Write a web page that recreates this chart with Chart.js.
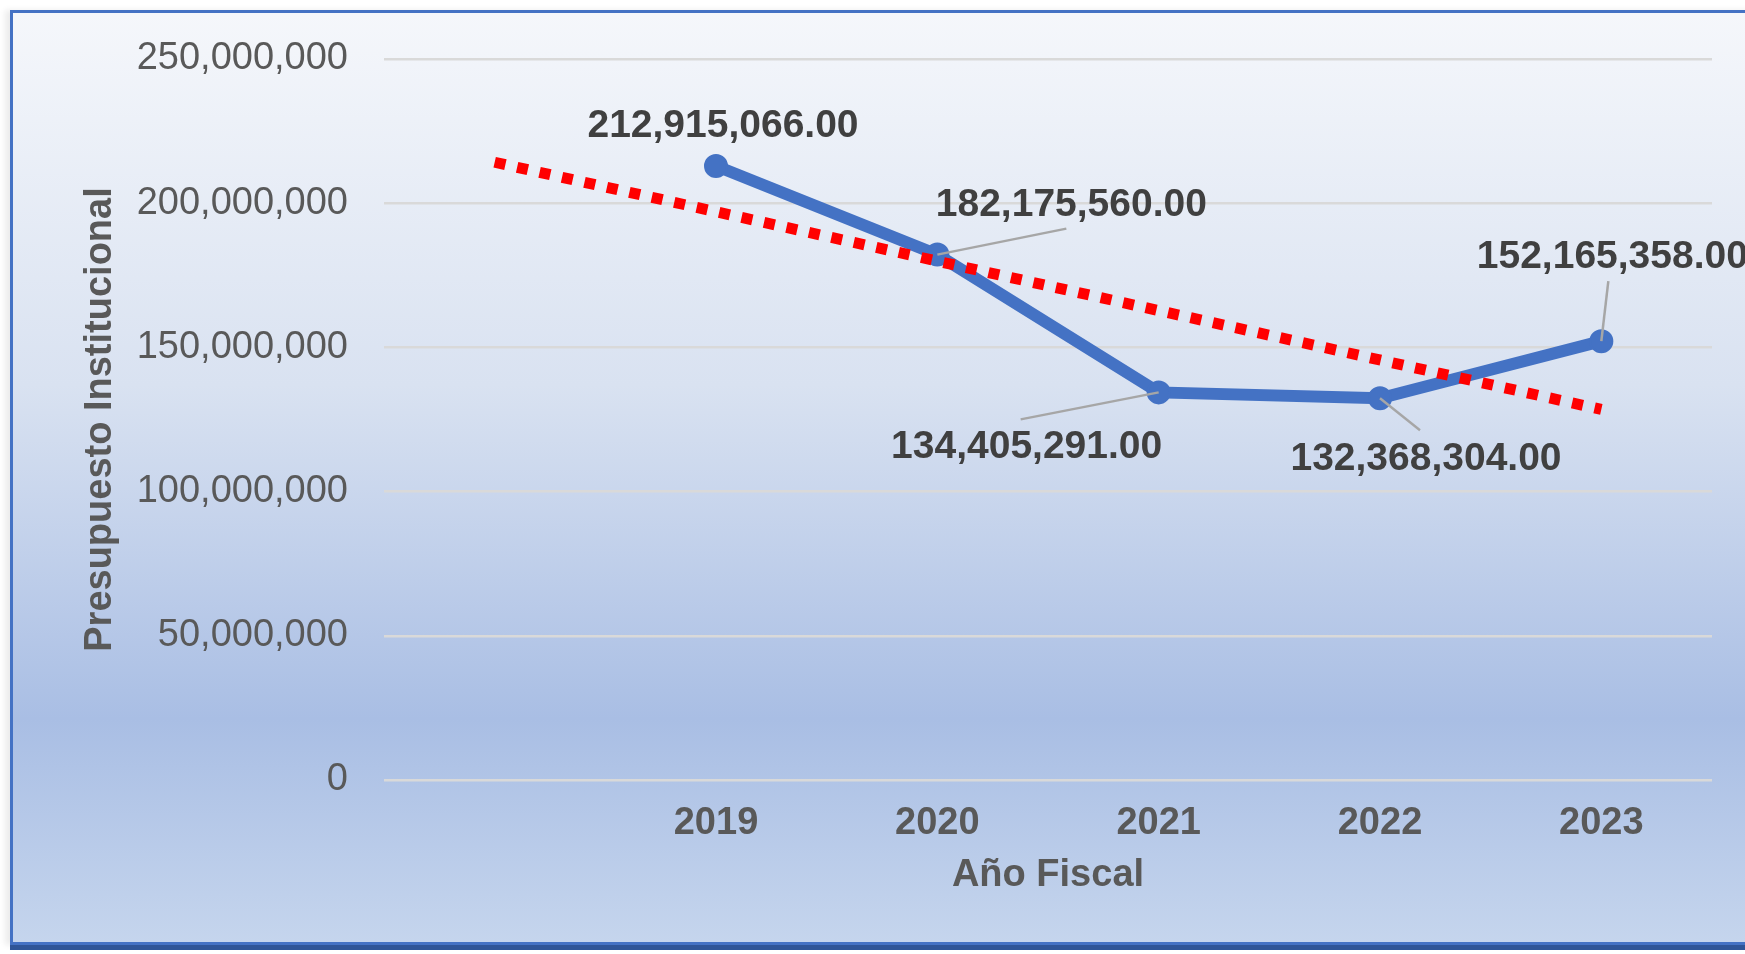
<!DOCTYPE html>
<html>
<head>
<meta charset="utf-8">
<script src="https://cdn.jsdelivr.net/npm/chart.js@4/dist/chart.umd.min.js"></script>
<style>
  html, body { margin: 0; padding: 0; background: #fff; overflow: hidden; }
  body { width: 1745px; height: 954px; position: relative; }
  #frame {
    position: absolute; left: 10px; top: 10px;
    width: 1800px; height: 929px;
    border: 3px solid #4472C4;
    background: linear-gradient(to bottom, #F5F7FB 0%, #D9E2F1 40%, #A9BEE4 76%, #C5D5ED 100%);
    box-shadow: 0 5px 0 #2F5597, -5px 0 6px rgba(0,0,0,0.08);
  }
  #chart { position: absolute; left: 0; top: 0; }
</style>
</head>
<body>
<div id="frame"></div>
<canvas id="chart" width="1745" height="954"></canvas>
<script>
"use strict";

// Fiscal years; the first, empty slot is where the trend line starts
const years = ["", "2019", "2020", "2021", "2022", "2023"];

// Institutional budget per year
const budget = [null, 212915066, 182175560, 134405291, 132368304, 152165358];

// Linear trend line, only its two ends
const trend = [214200000, null, null, null, null, 128500000];

const yTicks = [0, 50000000, 100000000, 150000000, 200000000, 250000000];

// Where each value label sits relative to its point: [label dx, dy, leader dx, dy]
const labelOffsets = [
  null,
  [7, -42, null, null],
  [134, -51, 129, -26],
  [-132, 53, -138, 27],
  [46, 59, 40, 32],
  [11, -86, 7, -60],
];

const fmt = (v) => v.toLocaleString("en-US");

// Draws the value labels and their gray leader lines
const valueLabels = {
  id: "valueLabels",
  afterDatasetsDraw(chart) {
    const ctx = chart.ctx;
    const meta = chart.getDatasetMeta(1);
    ctx.save();
    meta.data.forEach((pt, i) => {
      const off = labelOffsets[i];
      if (!off || budget[i] == null) return;
      if (off[2] != null) {
        ctx.strokeStyle = "#A6A6A6";
        ctx.lineWidth = 2.5;
        ctx.beginPath();
        ctx.moveTo(pt.x, pt.y);
        ctx.lineTo(pt.x + off[2], pt.y + off[3]);
        ctx.stroke();
      }
      ctx.fillStyle = "#404040";
      ctx.font = "bold 39px 'Liberation Sans', Arial, sans-serif";
      ctx.textAlign = "center";
      ctx.textBaseline = "middle";
      ctx.fillText(fmt(budget[i]) + ".00", pt.x + off[0], pt.y + off[1] + 2);
    });
    ctx.restore();
  },
};

const trendLine = {
  label: "Tendencia",
  data: trend,
  borderColor: "#FF0000",
  borderWidth: 11,
  borderDash: [11, 12],
  pointRadius: 0,
  spanGaps: true,
  order: 0,
};

const budgetLine = {
  label: "Presupuesto",
  data: budget,
  borderColor: "#4472C4",
  backgroundColor: "#4472C4",
  borderWidth: 12,
  pointRadius: 11,
  pointBorderWidth: 2,
  order: 1,
};

const config = {
  type: "line",
  data: {
    labels: years,
    datasets: [trendLine, budgetLine],
  },
  options: {
    responsive: false,
    animation: false,
    layout: { padding: { top: 59, right: 33, left: 0, bottom: 0 } },
    plugins: {
      legend: { display: false },
      tooltip: { enabled: false },
    },
    scales: {
      x: {
        offset: true,
        grid: { display: false, drawTicks: false },
        border: { display: false },
        ticks: {
          color: "#595959",
          padding: 21,
          font: { family: "'Liberation Sans', Arial", size: 38, weight: "bold" },
        },
        title: {
          display: true,
          text: "Año Fiscal",
          color: "#595959",
          padding: { top: 0, bottom: 56 },
          font: { family: "'Liberation Sans', Arial", size: 38, weight: "bold" },
        },
        afterFit: (s) => { s.height = 174; },
      },
      y: {
        min: 0,
        max: 250000000,
        afterBuildTicks: (s) => { s.ticks = yTicks.map((v) => ({ value: v })); },
        grid: { color: "#D9D9D9", lineWidth: 2.5, drawTicks: false },
        border: { display: false },
        ticks: {
          color: "#595959",
          padding: 36,
          callback: (v) => fmt(v),
          font: { family: "'Liberation Sans', Arial", size: 38 },
        },
        title: {
          display: true,
          text: "Presupuesto Institucional",
          color: "#595959",
          padding: { top: 78, bottom: 0 },
          font: { family: "'Liberation Sans', Arial", size: 38, weight: "bold" },
        },
        afterFit: (s) => { s.width = 384; },
      },
    },
  },
  plugins: [valueLabels],
};

const canvas = document.querySelector("#chart");
const chart = new Chart(canvas, config);
</script>
</body>
</html>
